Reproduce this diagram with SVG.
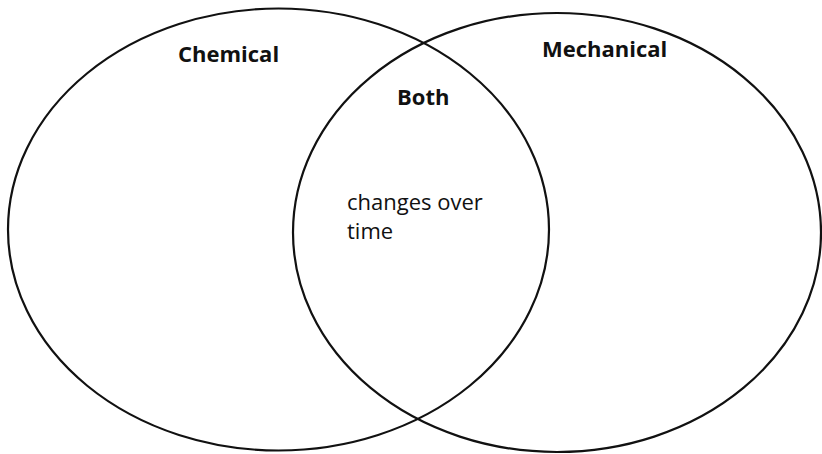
<svg xmlns="http://www.w3.org/2000/svg" width="822" height="454" viewBox="0 0 822 454">
<style>
.ring{fill:none;stroke:#111;stroke-width:2.2}
.lbl{font-family:"Open Sans","Liberation Sans",sans-serif;font-size:22px;font-weight:bold;fill:#111}
.txt{font-family:"Open Sans","Liberation Sans",sans-serif;font-size:22px;fill:#111}
</style>
<rect width="822" height="454" fill="#fff"/>
<g id="chemical">
<ellipse class="ring" cx="278.5" cy="229.5" rx="270.5" ry="221"/>
<text class="lbl" x="178" y="61.5">Chemical</text>
</g>
<g id="mechanical">
<ellipse class="ring" cx="557" cy="232.5" rx="264" ry="219.5"/>
<text class="lbl" x="542" y="57">Mechanical</text>
</g>
<g id="both">
<text class="lbl" x="397" y="105">Both</text>
<text class="txt" x="347" y="210">changes over</text>
<text class="txt" x="347" y="239">time</text>
</g>
<g id="connectors"/>
</svg>
